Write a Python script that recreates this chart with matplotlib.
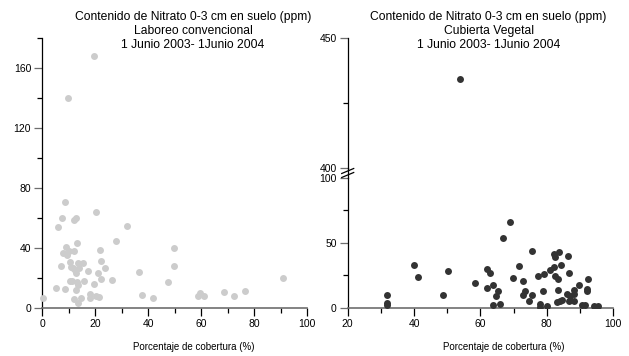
import matplotlib
matplotlib.use('Agg')
import matplotlib.pyplot as plt
from matplotlib.lines import Line2D
from matplotlib.ticker import MultipleLocator

# Laboreo convencional: % cobertura vs nitrato (ppm)
conv_cover = [0.4, 5.2, 5.8, 7.1, 7.6, 7.9, 8.7, 8.6, 9.0, 9.5, 10.1, 10.3, 10.6,
              10.8, 11.2, 11.5, 12.0, 12.0, 12.1, 12.7, 12.4, 12.7, 12.9, 13.0,
              13.1, 13.4, 13.5, 13.6, 13.9, 14.6, 15.5, 15.8, 17.4, 18.0, 18.0,
              19.4, 20.3, 20.3, 21.2, 21.4, 21.8, 22.1, 22.2, 23.5, 26.4, 27.7,
              32.0, 36.6, 37.5, 41.9, 47.3, 49.6, 49.7, 59.0, 59.6, 61.0, 68.5,
              72.6, 76.4, 90.8, 19.5, 9.8]
conv_nitrate = [6.2, 12.9, 53.9, 27.8, 59.7, 36.3, 70.4, 12.5, 40.8, 35.2, 37.9,
                17.8, 30.7, 27.4, 17.8, 26.3, 5.6, 37.9, 58.6, 60.1, 25.2, 11.8,
                22.9, 43.0, 17.4, 15.1, 30.1, 3.3, 26.3, 6.7, 30.1, 17.8, 24.7,
                8.9, 6.7, 15.8, 64.1, 7.8, 22.9, 7.3, 38.5, 18.9, 31.2, 26.7,
                18.5, 44.8, 54.6, 24.1, 8.7, 6.2, 17.4, 39.6, 28.1, 7.8, 9.6, 8.0,
                10.5, 7.8, 11.1, 19.6, 168.0, 140.0]

# Cubierta vegetal
veg_cover = [31.8, 32.0, 31.8, 40.0, 41.3, 48.8, 50.2, 58.3, 61.9, 61.9, 63.0,
             63.8, 63.9, 64.6, 65.2, 66.0, 66.9, 69.0, 69.9, 71.6, 72.9, 73.0,
             73.4, 74.6, 75.5, 75.7, 77.3, 77.9, 78.1, 78.9, 79.1, 80.1, 81.1,
             82.1, 82.3, 82.6, 82.6, 83.0, 83.3, 83.4, 83.8, 84.0, 84.3, 84.7,
             86.0, 86.3, 86.7, 86.8, 87.0, 88.2, 88.2, 88.3, 89.8, 90.8, 91.7,
             92.4, 92.1, 92.1, 94.4, 95.4, 54.0]
veg_nitrate = [2.3, 9.5, 3.3, 32.8, 23.8, 10.0, 28.2, 18.7, 29.5, 14.9, 26.4,
               1.8, 17.7, 9.0, 13.1, 2.8, 53.8, 65.6, 22.6, 32.1, 20.8, 10.0,
               13.1, 5.4, 10.0, 43.6, 24.4, 2.6, 0.8, 13.1, 26.2, 1.3, 28.7,
               31.0, 41.0, 38.7, 24.4, 4.1, 22.3, 13.6, 43.1, 5.1, 32.8, 5.9,
               10.5, 39.5, 4.9, 26.4, 9.0, 13.6, 10.5, 4.9, 17.4, 2.3, 2.3, 22.3,
               14.6, 13.2, 1.0, 1.6, 434.0]

title_line1 = 'Contenido de Nitrato 0-3 cm en suelo (ppm)'
title_conv = 'Laboreo convencional'
title_veg = 'Cubierta Vegetal'
title_dates = '1 Junio 2003- 1Junio 2004'
x_label = 'Porcentaje de cobertura (%)'

plt.rcParams['font.family'] = ['Liberation Sans', 'DejaVu Sans']
W, H = 629, 356
axis_grey = '#6e6e6e'


def fx(px):
    return px / W


def fy(py):
    return 1 - py / H


def style_axis(ax, bottom=True):
    for side in ['top', 'right']:
        ax.spines[side].set_visible(False)
    ax.spines['left'].set_linewidth(0.9)
    if bottom:
        ax.spines['bottom'].set_color(axis_grey)
        ax.spines['bottom'].set_linewidth(1.2)
    else:
        ax.spines['bottom'].set_visible(False)
        ax.tick_params(axis='x', which='both', bottom=False, labelbottom=False)
    ax.tick_params(which='major', direction='out', length=6, width=0.9,
                   labelsize=7.5, pad=2)
    ax.tick_params(which='minor', direction='out', length=3.5, width=0.9)
    ax.tick_params(axis='y', which='major', color=axis_grey)


fig = plt.figure(figsize=(6.29, 3.56), dpi=100)

# left panel
ax1 = fig.add_axes([fx(42.3), fy(307.7), fx(307 - 42.3), (307.7 - 38) / H])
ax1.scatter(conv_cover, conv_nitrate, s=25, color='#cccccc', linewidths=0,
            clip_on=False, zorder=3)
ax1.set_xlim(0, 100)
ax1.set_ylim(0, 180)
ax1.xaxis.set_major_locator(MultipleLocator(20))
ax1.xaxis.set_minor_locator(MultipleLocator(10))
ax1.yaxis.set_major_locator(MultipleLocator(40))
ax1.yaxis.set_minor_locator(MultipleLocator(20))
style_axis(ax1)

# right panel, broken y axis
ax_lo = fig.add_axes([fx(347.7), fy(307.7), fx(613 - 347.7), 130 / H])
ax_hi = fig.add_axes([fx(347.7), fy(167.7), fx(613 - 347.7), 130 / H])
for ax in [ax_lo, ax_hi]:
    ax.scatter(veg_cover, veg_nitrate, s=25, color='#333333', linewidths=0,
               clip_on=False, zorder=3)
    ax.set_xlim(20, 100)
    ax.xaxis.set_major_locator(MultipleLocator(20))
    ax.xaxis.set_minor_locator(MultipleLocator(10))
ax_lo.set_ylim(0, 100)
ax_hi.set_ylim(400, 450)
# only keep the points that fall in each range
ax_lo.collections[0].set_clip_on(True)
ax_hi.collections[0].set_clip_on(True)
ax_lo.yaxis.set_major_locator(MultipleLocator(50))
ax_lo.yaxis.set_minor_locator(MultipleLocator(25))
ax_hi.yaxis.set_major_locator(MultipleLocator(50))
ax_hi.yaxis.set_minor_locator(MultipleLocator(25))
style_axis(ax_lo)
style_axis(ax_hi, bottom=False)
ax_hi.patch.set_visible(False)
ax_lo.patch.set_visible(False)

# break marks between 400 and 100
sx = 347.7
fig.add_artist(Line2D([fx(sx), fx(sx)], [fy(167.7), fy(177.7)], color='black',
                      lw=0.9))
fig.add_artist(Line2D([fx(sx - 6), fx(sx + 6)], [fy(173.5), fy(168.5)],
                      color='black', lw=0.9))
fig.add_artist(Line2D([fx(sx - 6), fx(sx + 6)], [fy(177.5), fy(172.5)],
                      color='black', lw=0.9))

# titles and labels
fig.text(fx(193), fy(11), f'{title_line1}\n{title_conv}\n{title_dates}',
         ha='center', va='top', fontsize=8.7, linespacing=1.2)
fig.text(fx(488.5), fy(11), f'{title_line1}\n{title_veg}\n{title_dates}',
         ha='center', va='top', fontsize=8.7, linespacing=1.2)
fig.text(fx(194), fy(347), x_label, ha='center', va='center', fontsize=7)
fig.text(fx(503.5), fy(347), x_label, ha='center', va='center', fontsize=7)

fig.savefig('out.png', dpi=100)
